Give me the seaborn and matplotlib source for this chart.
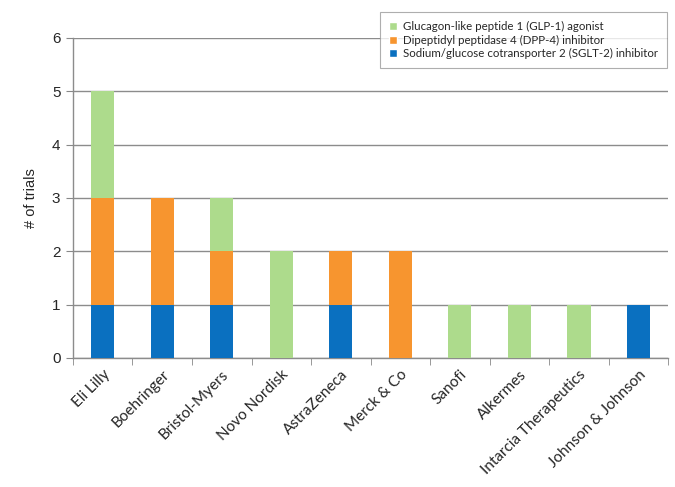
import pandas as pd
import matplotlib.pyplot as plt
import seaborn as sns
from matplotlib.patches import Patch
from matplotlib.ticker import FixedLocator

companies = ["Eli Lilly", "Boehringer", "Bristol-Myers", "Novo Nordisk", "AstraZeneca",
             "Merck & Co", "Sanofi", "Alkermes", "Intarcia Therapeutics", "Johnson & Johnson"]
sglt2 = [1, 1, 1, 0, 1, 0, 0, 0, 0, 1]
dpp4 = [2, 2, 1, 0, 1, 2, 0, 0, 0, 0]
glp1 = [2, 0, 1, 2, 0, 0, 1, 1, 1, 0]

labels = {
    "glp1": "Glucagon-like peptide 1 (GLP-1) agonist",
    "dpp4": "Dipeptidyl peptidase 4 (DPP-4) inhibitor",
    "sglt2": "Sodium/glucose cotransporter 2 (SGLT-2) inhibitor",
}
colors = {"glp1": "#addb8c", "dpp4": "#f7952f", "sglt2": "#0a70c0"}

df = pd.DataFrame({"Company": companies, "sglt2": sglt2, "dpp4": dpp4, "glp1": glp1})
df["lvl1"] = df["sglt2"]
df["lvl2"] = df["sglt2"] + df["dpp4"]
df["lvl3"] = df["lvl2"] + df["glp1"]

sns.set_style("white")
plt.rcParams["font.family"] = ["Liberation Sans", "DejaVu Sans"]

fig = plt.figure(figsize=(6.75, 4.87), dpi=100)
ax = fig.add_axes([0.108, 0.265, 0.882, 0.657])

# stacked bars: draw cumulative totals from the top down
for lvl, key in [("lvl3", "glp1"), ("lvl2", "dpp4"), ("lvl1", "sglt2")]:
    sns.barplot(data=df, x="Company", y=lvl, color=colors[key], width=0.39,
                saturation=1, ax=ax, zorder=3, linewidth=0, edgecolor="none")

ax.set_ylim(0, 6)
ax.set_xlim(-0.5, len(companies) - 0.5)
ax.set_yticks(range(0, 7))
ax.tick_params(axis="y", labelsize=11, length=5, color="#888888", direction="out", left=True, pad=4)
ax.yaxis.grid(True, color="#8c8c8c", linewidth=1, zorder=0)
ax.set_axisbelow(True)

ax.set_xticks(range(len(companies)))
ax.set_xticklabels(companies, rotation=45, ha="right", rotation_mode="anchor",
                   fontsize=11, family=["Lato", "DejaVu Sans"])
ax.tick_params(axis="x", length=0, pad=7)
ax.xaxis.set_minor_locator(FixedLocator([i + 0.5 for i in range(-1, len(companies))]))
ax.tick_params(axis="x", which="minor", length=5, color="#888888", direction="out", bottom=True)

ax.set_xlabel("")
ax.set_ylabel("# of trials", fontsize=10.5, labelpad=10)

for side in ["top", "right"]:
    ax.spines[side].set_visible(False)
for side in ["left", "bottom"]:
    ax.spines[side].set_color("#8c8c8c")
    ax.spines[side].set_linewidth(1)

handles = [Patch(facecolor=colors[k], label=labels[k]) for k in ["glp1", "dpp4", "sglt2"]]
leg = ax.legend(handles=handles, loc="upper right", bbox_to_anchor=(1.008, 1.1),
                frameon=True, fancybox=False, edgecolor="#9a9a9a",
                handlelength=0.7, handleheight=0.7, handletextpad=0.5,
                borderpad=0.8, labelspacing=0.22, prop={"family": ["Lato", "DejaVu Sans"], "size": 8.3})
leg.get_frame().set_linewidth(0.8)
leg.set_zorder(5)

fig.savefig("out.png", dpi=100)
